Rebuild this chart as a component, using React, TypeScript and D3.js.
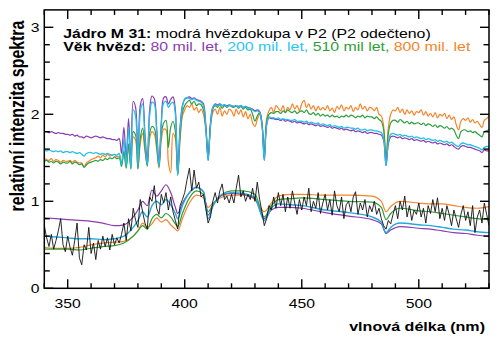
import React from 'react';
import * as d3 from 'd3';

// wavelength grid for high-resolution spectra (nm), 1 nm steps
const WL_START = 340;
const WL_END = 530;

// upper group: model spectra (offset +1)
const TOP_PURPLE = [
  1.80,1.80,1.79,1.80,1.79,1.78,1.79,1.78,1.78,1.77,
  1.77,1.76,1.77,1.75,1.76,1.74,1.74,1.73,1.75,1.74,
  1.73,1.74,1.75,1.74,1.73,1.74,1.73,1.72,1.72,1.71,
  1.71,1.70,1.72,1.55,1.85,1.50,1.95,1.46,2.15,2.08,
  1.45,2.10,2.18,1.78,1.45,2.05,2.21,2.18,1.85,1.42,
  1.92,2.19,2.20,2.12,2.17,2.20,2.05,1.32,1.85,2.10,
  2.17,2.19,2.20,2.18,2.19,2.17,2.16,2.15,2.12,1.88,
  1.47,1.90,2.08,2.12,2.11,2.12,2.10,2.11,2.10,2.11,
  2.10,2.09,2.10,2.09,2.10,2.08,2.09,2.08,2.07,2.06,
  2.04,2.05,2.03,1.90,1.47,1.88,1.96,1.95,1.95,1.94,
  1.94,1.93,1.94,1.92,1.93,1.92,1.91,1.92,1.90,1.91,
  1.90,1.89,1.90,1.88,1.89,1.88,1.87,1.88,1.86,1.87,
  1.86,1.85,1.86,1.84,1.85,1.84,1.83,1.84,1.82,1.83,
  1.82,1.81,1.82,1.80,1.81,1.80,1.79,1.80,1.78,1.79,
  1.79,1.78,1.78,1.77,1.76,1.70,1.41,1.66,1.74,1.75,
  1.74,1.73,1.74,1.72,1.73,1.72,1.71,1.72,1.70,1.71,
  1.70,1.69,1.70,1.68,1.69,1.68,1.67,1.68,1.66,1.67,
  1.66,1.65,1.66,1.64,1.65,1.63,1.61,1.60,1.63,1.64,
  1.63,1.62,1.62,1.61,1.60,1.59,1.58,1.56,1.59,1.58,
  1.58,
];
const TOP_CYAN = [
  1.59,1.58,1.59,1.58,1.57,1.58,1.57,1.58,1.56,1.57,
  1.57,1.56,1.57,1.56,1.55,1.56,1.54,1.52,1.55,1.56,
  1.56,1.55,1.56,1.55,1.54,1.55,1.54,1.55,1.54,1.53,
  1.54,1.53,1.55,1.42,1.72,1.40,1.85,1.38,2.05,1.98,
  1.40,2.02,2.12,1.72,1.42,1.98,2.14,2.12,1.80,1.40,
  1.88,2.13,2.15,2.08,2.12,2.14,2.00,1.30,1.82,2.08,
  2.18,2.19,2.18,2.17,2.18,2.16,2.15,2.14,2.10,1.85,
  1.47,1.88,2.08,2.11,2.10,2.11,2.10,2.11,2.09,2.10,
  2.10,2.09,2.10,2.08,2.10,2.08,2.09,2.07,2.07,2.05,
  2.03,2.04,2.02,1.88,1.47,1.88,1.97,1.96,1.96,1.95,
  1.96,1.94,1.95,1.94,1.94,1.93,1.93,1.94,1.92,1.92,
  1.92,1.91,1.92,1.90,1.91,1.90,1.89,1.90,1.88,1.89,
  1.88,1.87,1.88,1.86,1.87,1.86,1.85,1.86,1.84,1.85,
  1.85,1.84,1.84,1.83,1.84,1.82,1.82,1.83,1.81,1.82,
  1.82,1.81,1.81,1.80,1.79,1.72,1.41,1.68,1.77,1.78,
  1.77,1.76,1.77,1.75,1.76,1.75,1.74,1.75,1.73,1.74,
  1.73,1.72,1.73,1.71,1.72,1.71,1.70,1.71,1.69,1.70,
  1.69,1.68,1.69,1.67,1.68,1.66,1.64,1.63,1.66,1.67,
  1.66,1.65,1.65,1.64,1.63,1.62,1.61,1.59,1.62,1.63,
  1.63,
];
const TOP_GREEN = [
  1.46,1.47,1.45,1.46,1.44,1.46,1.45,1.43,1.45,1.44,
  1.44,1.46,1.43,1.45,1.44,1.42,1.43,1.39,1.42,1.44,
  1.45,1.46,1.47,1.46,1.48,1.47,1.49,1.48,1.50,1.49,
  1.51,1.49,1.50,1.40,1.58,1.38,1.66,1.37,1.80,1.76,
  1.37,1.72,1.84,1.62,1.40,1.78,1.86,1.84,1.65,1.40,
  1.78,1.90,1.93,1.62,1.85,1.92,1.80,1.30,1.75,2.02,
  2.10,2.14,2.16,2.12,2.15,2.10,2.12,2.11,2.05,1.85,
  1.50,1.88,2.06,2.10,2.08,2.11,2.07,2.10,2.08,2.10,
  2.09,2.08,2.10,2.07,2.09,2.06,2.08,2.05,2.06,2.00,
  1.92,1.98,2.02,1.90,1.50,1.92,2.00,2.02,2.01,2.03,
  2.03,2.01,2.04,2.02,2.05,2.03,2.02,2.04,2.01,2.03,
  2.04,2.02,2.05,2.01,2.00,2.02,1.99,2.01,1.98,2.00,
  1.98,1.99,1.97,1.99,1.97,1.98,1.96,1.98,1.97,1.99,
  1.97,1.99,1.98,1.96,1.98,1.97,1.99,1.96,1.98,1.97,
  1.97,1.95,1.97,1.94,1.92,1.82,1.45,1.78,1.90,1.93,
  1.93,1.91,1.94,1.92,1.90,1.92,1.89,1.91,1.89,1.90,
  1.90,1.88,1.90,1.87,1.89,1.88,1.86,1.88,1.85,1.87,
  1.86,1.84,1.86,1.83,1.84,1.82,1.76,1.72,1.80,1.82,
  1.82,1.80,1.81,1.79,1.80,1.78,1.76,1.74,1.80,1.81,
  1.83,
];
const TOP_ORANGE = [
  1.49,1.48,1.47,1.49,1.46,1.48,1.47,1.45,1.47,1.46,
  1.46,1.47,1.45,1.47,1.45,1.44,1.44,1.40,1.44,1.46,
  1.48,1.49,1.50,1.52,1.50,1.53,1.51,1.54,1.52,1.53,
  1.54,1.51,1.52,1.42,1.56,1.40,1.62,1.39,1.74,1.70,
  1.38,1.66,1.78,1.58,1.42,1.72,1.80,1.77,1.60,1.38,
  1.70,1.83,1.82,1.45,1.33,1.78,1.72,1.32,1.70,1.98,
  2.05,2.10,2.08,2.12,2.05,2.08,2.02,2.06,2.00,1.82,
  1.55,1.85,2.02,2.06,2.00,2.08,1.98,2.04,2.00,2.06,
  2.04,1.98,2.06,2.00,2.05,1.97,2.03,1.95,2.00,1.90,
  1.86,1.94,2.00,1.88,1.55,1.95,2.04,2.08,2.02,2.10,
  2.07,2.04,2.10,2.02,2.08,2.05,2.12,2.06,2.10,2.04,
  2.12,2.16,2.08,2.12,2.06,2.10,2.04,2.09,2.05,2.08,
  2.05,2.10,2.04,2.07,2.02,2.09,2.06,2.11,2.04,2.08,
  2.06,2.10,2.03,2.08,2.05,2.12,2.06,2.09,2.04,2.08,
  2.07,2.04,2.08,2.00,1.98,1.86,1.50,1.85,2.00,2.05,
  2.04,2.08,2.02,2.06,2.00,2.05,2.01,2.04,1.99,2.03,
  2.02,2.05,1.99,2.03,1.98,2.01,1.97,2.02,1.96,2.00,
  1.98,2.01,1.95,1.99,1.94,1.97,1.88,1.82,1.92,1.95,
  1.93,1.96,1.91,1.94,1.90,1.92,1.88,1.85,1.93,1.95,
  1.98,
];

// lower group: observed spectrum (noisy, black)
const OBSERVED = [
  0.72,0.58,0.48,0.62,0.45,0.55,0.66,0.80,0.50,0.42,
  0.60,0.47,0.38,0.55,0.75,0.35,0.27,0.50,0.44,0.70,
  0.40,0.52,0.33,0.55,0.45,0.60,0.48,0.58,0.44,0.62,
  0.50,0.58,0.52,0.62,0.75,0.55,0.80,0.66,0.92,0.78,
  0.70,1.02,0.88,0.75,0.68,1.05,1.00,1.18,0.92,0.85,
  1.08,0.98,1.10,0.90,1.05,0.88,0.78,0.68,0.95,1.02,
  1.10,1.25,1.38,1.12,1.36,1.15,1.22,1.05,1.08,0.92,
  0.75,0.82,1.00,1.10,0.98,1.12,1.20,1.02,1.06,0.98,
  1.08,0.98,1.15,1.30,1.05,1.12,1.00,1.08,1.02,1.15,
  1.00,1.22,1.02,0.88,0.72,0.80,0.95,0.90,1.05,0.92,
  1.10,0.95,1.08,0.88,1.05,0.92,1.12,0.98,0.85,1.02,
  0.90,1.05,0.95,1.15,0.88,1.00,0.92,1.10,0.86,0.98,
  1.08,0.90,1.02,0.84,1.12,0.95,0.88,1.05,0.80,0.96,
  1.00,0.88,1.05,1.11,0.85,0.98,0.90,1.02,0.82,0.95,
  0.88,1.00,0.85,0.92,0.80,0.72,0.68,0.78,0.74,0.85,
  0.95,0.80,1.00,0.90,1.06,0.82,0.95,0.78,0.90,0.85,
  0.98,0.82,0.92,0.75,0.95,0.86,1.02,0.88,1.04,0.80,
  0.92,0.78,0.95,0.85,0.72,0.90,0.80,0.70,0.85,0.95,
  0.78,0.88,0.72,0.95,0.64,0.82,0.90,0.75,0.98,0.85,
  0.72,
];

// lower group: smoothed model spectra, sampled at knots
const BOT_WL = [340,345,350,355,360,365,370,374,378,380,382,384,386,388,390,392,394,396,397,399,402,405,408,410,412,416,420,425,430,434,437,440,445,450,460,470,480,484,486,488,492,500,505,510,515,520,525,530];
const BOT_PURPLE = [0.81,0.80,0.79,0.78,0.77,0.75,0.72,0.73,0.82,0.90,1.00,0.95,1.13,1.06,1.12,1.19,1.10,0.93,0.86,0.98,1.10,1.16,1.11,0.84,0.95,1.07,1.09,1.08,1.03,0.80,0.90,0.93,0.93,0.92,0.87,0.83,0.79,0.74,0.63,0.67,0.71,0.69,0.68,0.66,0.64,0.63,0.61,0.60];
const BOT_CYAN = [0.60,0.59,0.58,0.57,0.57,0.56,0.57,0.60,0.70,0.78,0.88,0.82,0.95,1.00,0.96,1.02,0.96,0.86,0.80,0.95,1.10,1.16,1.11,0.80,0.94,1.08,1.10,1.09,1.04,0.78,0.92,0.97,0.96,0.95,0.90,0.87,0.82,0.76,0.64,0.70,0.75,0.73,0.72,0.70,0.68,0.67,0.65,0.64];
const BOT_GREEN = [0.45,0.45,0.45,0.44,0.46,0.48,0.49,0.52,0.60,0.66,0.72,0.68,0.80,0.85,0.81,0.86,0.82,0.74,0.71,0.86,1.04,1.12,1.08,0.88,0.96,1.08,1.12,1.12,1.08,0.82,0.95,1.02,1.03,1.04,1.02,1.00,0.99,0.93,0.79,0.86,0.92,0.89,0.88,0.86,0.84,0.82,0.80,0.79];
const BOT_ORANGE = [0.47,0.46,0.46,0.47,0.50,0.52,0.53,0.54,0.60,0.66,0.75,0.70,0.74,0.81,0.76,0.79,0.73,0.68,0.66,0.80,0.98,1.07,1.04,0.93,0.98,1.05,1.07,1.07,1.02,0.88,0.98,1.06,1.08,1.08,1.07,1.07,1.06,1.00,0.88,0.94,1.00,0.98,0.97,0.97,0.95,0.93,0.92,0.94];

const X_MAJOR = [350, 400, 450, 500];
const Y_MAJOR = [0, 1, 2, 3];

const C_PURPLE = '#8a3cae';
const C_CYAN = '#22bfe8';
const C_CYAN_BOT = '#24a9dc';
const C_GREEN = '#2c9e3a';
const C_ORANGE = '#f4852a';

const FONT = '"Liberation Sans", Arial, Helvetica, sans-serif';

export default function App() {
  const W = 500, H = 342;
  const L = 44.3, R = 489, T = 9.9, B = 288.3;
  const x = d3.scaleLinear().domain([WL_START, WL_END]).range([L, R]);
  const y = d3.scaleLinear().domain([0, 3.2]).range([B, T]);

  const grid = d3.range(WL_START, WL_END + 1);
  const hiLine = d3.line<number>().x((_, i) => x(grid[i])).y((v) => y(v)).curve(d3.curveCatmullRom.alpha(0.5));
  const obsLine = d3.line<number>().x((_, i) => x(grid[i])).y((v) => y(v));
  const smLine = d3.line<number>().x((_, i) => x(BOT_WL[i])).y((v) => y(v)).curve(d3.curveMonotoneX);

  const xMinor = d3.range(WL_START, WL_END + 1, 10).filter((v) => !X_MAJOR.includes(v));
  const yMinor = d3.range(1, 16).map((i) => +(i * 0.2).toFixed(1)).filter((v) => !Y_MAJOR.includes(v));

  const tickStroke = { stroke: '#000', strokeWidth: 1.4 };
  const SX = 1.26;

  return (
    <svg width={W} height={H} style={{ position: 'absolute', left: 0, top: 0, background: '#fff' }} fontFamily={FONT}>
      <defs>
        <clipPath id="plotclip">
          <rect x={L} y={T} width={R - L} height={B - T} />
        </clipPath>
      </defs>
      <g clipPath="url(#plotclip)" fill="none" strokeLinejoin="round">
        <path d={hiLine(TOP_ORANGE) || ''} stroke={C_ORANGE} strokeWidth={1.2} />
        <path d={hiLine(TOP_GREEN) || ''} stroke={C_GREEN} strokeWidth={1.2} />
        <path d={hiLine(TOP_PURPLE) || ''} stroke={C_PURPLE} strokeWidth={1.2} />
        <path d={hiLine(TOP_CYAN) || ''} stroke={C_CYAN} strokeWidth={1.3} />

        <path d={smLine(BOT_ORANGE) || ''} stroke={C_ORANGE} strokeWidth={1.2} />
        <path d={smLine(BOT_GREEN) || ''} stroke={C_GREEN} strokeWidth={1.2} />
        <path d={smLine(BOT_PURPLE) || ''} stroke={C_PURPLE} strokeWidth={1.2} />
        <path d={smLine(BOT_CYAN) || ''} stroke={C_CYAN_BOT} strokeWidth={1.4} />
        <path d={obsLine(OBSERVED) || ''} stroke="#111" strokeWidth={0.9} />
      </g>

      {/* frame */}
      <rect x={L} y={T} width={R - L} height={B - T} fill="none" stroke="#000" strokeWidth={1.5} />

      {/* x ticks bottom and top */}
      {X_MAJOR.map((v) => (
        <g key={'xM' + v}>
          <line x1={x(v)} x2={x(v)} y1={B} y2={B - 9} {...tickStroke} />
          <line x1={x(v)} x2={x(v)} y1={T} y2={T + 9} {...tickStroke} />
        </g>
      ))}
      {xMinor.map((v) => (
        <g key={'xm' + v}>
          <line x1={x(v)} x2={x(v)} y1={B} y2={B - 5} {...tickStroke} />
          <line x1={x(v)} x2={x(v)} y1={T} y2={T + 5} {...tickStroke} />
        </g>
      ))}
      {/* y ticks left and right */}
      {Y_MAJOR.map((v) => (
        <g key={'yM' + v}>
          <line x1={L} x2={L + 9} y1={y(v)} y2={y(v)} {...tickStroke} />
          <line x1={R} x2={R - 9} y1={y(v)} y2={y(v)} {...tickStroke} />
        </g>
      ))}
      {yMinor.map((v) => (
        <g key={'ym' + v}>
          <line x1={L} x2={L + 5.5} y1={y(v)} y2={y(v)} {...tickStroke} />
          <line x1={R} x2={R - 5.5} y1={y(v)} y2={y(v)} {...tickStroke} />
        </g>
      ))}

      {/* tick labels */}
      {X_MAJOR.map((v) => (
        <text key={'xl' + v} transform={`translate(${x(v)},307.5) scale(${SX},1)`} textAnchor="middle" fontSize={12.5} fill="#000">
          {v}
        </text>
      ))}
      {Y_MAJOR.map((v) => (
        <text key={'yl' + v} transform={`translate(39.5,${y(v) + 4.5}) scale(${SX},1)`} textAnchor="end" fontSize={12.5} fill="#000">
          {v}
        </text>
      ))}

      {/* axis titles */}
      <text transform={`translate(485,330.5) scale(1.21,1)`} textAnchor="end" fontSize={13.3} fontWeight="bold" fill="#000">
        vlnová délka (nm)
      </text>
      <text transform={`translate(24,116) scale(${SX},1) rotate(-90)`} textAnchor="middle" fontSize={15.9} fontWeight="bold" fill="#000">
        relativní intenzita spektra
      </text>

      {/* legend text */}
      <text transform={`translate(63.3,37.8) scale(1.27,1)`} fontSize={12.5} fill="#000">
        <tspan fontWeight="bold">Jádro M 31:</tspan>
        <tspan> modrá hvězdokupa v P2 (P2 odečteno)</tspan>
      </text>
      <text transform={`translate(63.3,51.3) scale(1.27,1)`} fontSize={12.5} fill="#000">
        <tspan fontWeight="bold">Věk hvězd:</tspan>
        <tspan fill={C_PURPLE}> 80 mil. let,</tspan>
        <tspan fill="#2cc5ee"> 200 mil. let,</tspan>
        <tspan fill={C_GREEN}> 510 mil let,</tspan>
        <tspan fill={C_ORANGE}> 800 mil. let</tspan>
      </text>
    </svg>
  );
}
